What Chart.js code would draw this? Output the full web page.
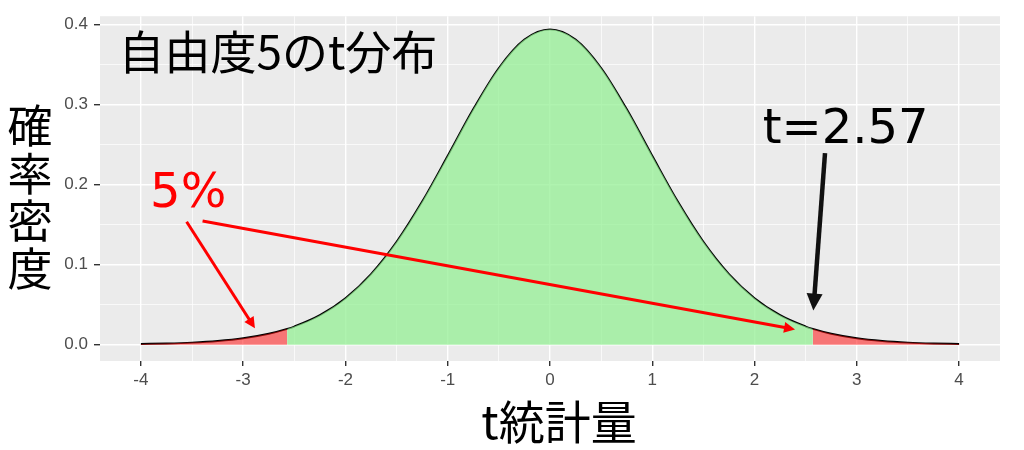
<!DOCTYPE html>
<html>
<head>
<meta charset="utf-8">
<script src="https://cdn.jsdelivr.net/npm/chart.js@4.4.1/dist/chart.umd.min.js"></script>
<style>
  body { margin: 0; background: #ffffff; }
  #wrap { width: 1024px; height: 450px; }
</style>
</head>
<body>
<div id="wrap"><canvas id="tChart"></canvas></div>
<script>
// valores
const tValues = [-4, -3.75, -3.5, -3.25, -3, -2.75, -2.57, -2.5, -2.25, -2, -1.75, -1.5, -1.25, -1, -0.75, -0.5, -0.25,
                 0, 0.25, 0.5, 0.75, 1, 1.25, 1.5, 1.75, 2, 2.25, 2.5, 2.57, 2.75, 3, 3.25, 3.5, 3.75, 4];
const density = [0.0009, 0.0015, 0.0026, 0.0046, 0.0080, 0.0136, 0.0197, 0.0227, 0.0369, 0.0581, 0.0883, 0.1286, 0.1788, 0.2360, 0.2944, 0.3458, 0.3813,
                 0.3940, 0.3813, 0.3458, 0.2944, 0.2360, 0.1788, 0.1286, 0.0883, 0.0581, 0.0369, 0.0227, 0.0197, 0.0136, 0.0080, 0.0046, 0.0026, 0.0015, 0.0009];
const criticalT = 2.57;

const xTicks = [-4, -3, -2, -1, 0, 1, 2, 3, 4];
const yTicks = [0.0, 0.1, 0.2, 0.3, 0.4];

const xTitle = 't統計量';
const yTitle = '確率密度';

// anotaciones (coordenadas en unidades de datos)
const noteLabels = ['自由度5のt分布', '5%', 't=2.57'];
const noteX = [-4.22, -3.91, 2.08];
const noteY = [0.344, 0.172, 0.2525];

const arrowFromX = [-3.553, -3.397, 2.689];
const arrowFromY = [0.1537, 0.1546, 0.2393];
const arrowToX = [-2.885, 2.396, 2.575];
const arrowToY = [0.0204, 0.0191, 0.0426];

// =========================================================
// Construcción de los datasets
// =========================================================
const curve = tValues.map((t, i) => ({ x: t, y: density[i] }));
const leftTail = curve.filter(p => p.x <= -criticalT);
const middle = curve.filter(p => p.x >= -criticalT && p.x <= criticalT);
const rightTail = curve.filter(p => p.x >= criticalT);

const isMajor = (v, step) => Math.abs(v / step - Math.round(v / step)) < 1e-6;

const panelBg = {
    id: 'panelBg',
    beforeDraw(chart) {
        const { ctx, chartArea: a } = chart;
        ctx.save();
        ctx.fillStyle = '#EBEBEB';
        ctx.fillRect(a.left, a.top, a.right - a.left, a.bottom - a.top);
        ctx.restore();
    }
};

function drawArrow(ctx, x1, y1, x2, y2, color, width, headLen, headHalf) {
    const ang = Math.atan2(y2 - y1, x2 - x1);
    const bx = x2 - Math.cos(ang) * headLen;
    const by = y2 - Math.sin(ang) * headLen;
    ctx.strokeStyle = color;
    ctx.fillStyle = color;
    ctx.lineWidth = width;
    ctx.beginPath();
    ctx.moveTo(x1, y1);
    ctx.lineTo(bx + Math.cos(ang) * 2, by + Math.sin(ang) * 2);
    ctx.stroke();
    ctx.beginPath();
    ctx.moveTo(x2, y2);
    ctx.lineTo(bx + Math.sin(ang) * headHalf, by - Math.cos(ang) * headHalf);
    ctx.lineTo(bx - Math.sin(ang) * headHalf, by + Math.cos(ang) * headHalf);
    ctx.closePath();
    ctx.fill();
}

const annotations = {
    id: 'annotations',
    afterDraw(chart) {
        const { ctx, chartArea: a } = chart;
        const sx = chart.scales.x, sy = chart.scales.y;
        ctx.save();

        // títulos de los ejes
        ctx.fillStyle = '#000';
        ctx.textAlign = 'center';
        ctx.textBaseline = 'middle';
        ctx.font = '46px "Noto Sans CJK JP"';
        ctx.fillText(xTitle, (a.left + a.right) / 2 + 9, 422);
        ctx.font = '45px "Noto Sans CJK JP"';
        const chars = Array.from(yTitle);
        const mid = (a.top + a.bottom) / 2 + 9;
        chars.forEach((c, i) => {
            ctx.fillText(c, 30, mid + (i - (chars.length - 1) / 2) * 47.5);
        });

        // flechas
        const colors = ['#FF0000', '#FF0000', '#111111'];
        arrowFromX.forEach((fx, i) => {
            const big = i === 2;
            drawArrow(ctx,
                sx.getPixelForValue(fx), sy.getPixelForValue(arrowFromY[i]),
                sx.getPixelForValue(arrowToX[i]), sy.getPixelForValue(arrowToY[i]),
                colors[i], big ? 4.5 : 3, big ? 17 : 11, big ? 8 : 5.5);
        });

        // textos
        ctx.textAlign = 'left';
        ctx.textBaseline = 'alphabetic';
        const fonts = ['46px "Noto Sans CJK JP"', '48px "DejaVu Sans"', '48px "DejaVu Sans"'];
        const textColors = ['#000000', '#FF0000', '#000000'];
        noteLabels.forEach((txt, i) => {
            ctx.font = fonts[i];
            ctx.fillStyle = textColors[i];
            ctx.fillText(txt, sx.getPixelForValue(noteX[i]), sy.getPixelForValue(noteY[i]));
        });
        ctx.restore();
    }
};

const lineBase = {
    pointRadius: 0,
    cubicInterpolationMode: 'monotone',
    borderWidth: 0
};

new Chart(document.getElementById('tChart'), {
    type: 'line',
    data: {
        datasets: [
            { ...lineBase, data: leftTail, fill: 'origin', backgroundColor: 'rgba(255, 20, 20, 0.55)', borderColor: 'rgba(0,0,0,0)' },
            { ...lineBase, data: middle, fill: 'origin', backgroundColor: 'rgba(144, 238, 144, 0.72)', borderColor: 'rgba(0,0,0,0)' },
            { ...lineBase, data: rightTail, fill: 'origin', backgroundColor: 'rgba(255, 20, 20, 0.55)', borderColor: 'rgba(0,0,0,0)' },
            { ...lineBase, data: curve, fill: false, borderColor: '#000000', borderWidth: 1.9 }
        ]
    },
    options: {
        responsive: true,
        maintainAspectRatio: false,
        animation: false,
        layout: { padding: { left: 0, right: 24, top: 12, bottom: 0 } },
        plugins: { legend: { display: false }, tooltip: { enabled: false } },
        scales: {
            x: {
                type: 'linear',
                min: -4.4,
                max: 4.4,
                afterFit: s => { s.height = 89; },
                border: { display: false },
                grid: {
                    color: '#FFFFFF',
                    lineWidth: c => isMajor(c.tick.value, 1) ? 1.4 : 0.7,
                    tickColor: c => isMajor(c.tick.value, 1) ? '#333333' : 'rgba(0,0,0,0)',
                    tickLength: 5,
                    tickWidth: 1.4
                },
                ticks: {
                    stepSize: 0.5,
                    includeBounds: false,
                    autoSkip: false,
                    maxRotation: 0,
                    padding: 4,
                    color: '#4D4D4D',
                    font: { family: '"Liberation Sans", Arial, sans-serif', size: 17 },
                    callback: v => xTicks.includes(Math.round(v * 100) / 100) && isMajor(v, 1) ? String(v) : ''
                }
            },
            y: {
                min: -0.0204,
                max: 0.4105,
                afterFit: s => { s.width = 100; },
                border: { display: false },
                grid: {
                    color: '#FFFFFF',
                    lineWidth: c => isMajor(c.tick.value, 0.1) ? 1.4 : 0.7,
                    tickColor: c => isMajor(c.tick.value, 0.1) ? '#333333' : 'rgba(0,0,0,0)',
                    tickLength: 6,
                    tickWidth: 1.4
                },
                ticks: {
                    stepSize: 0.05,
                    includeBounds: false,
                    autoSkip: false,
                    padding: 6,
                    color: '#4D4D4D',
                    font: { family: '"Liberation Sans", Arial, sans-serif', size: 17 },
                    callback: v => isMajor(v, 0.1) && yTicks.some(t => Math.abs(t - v) < 1e-6) ? v.toFixed(1) : ''
                }
            }
        }
    },
    plugins: [panelBg, annotations]
});
</script>
</body>
</html>
